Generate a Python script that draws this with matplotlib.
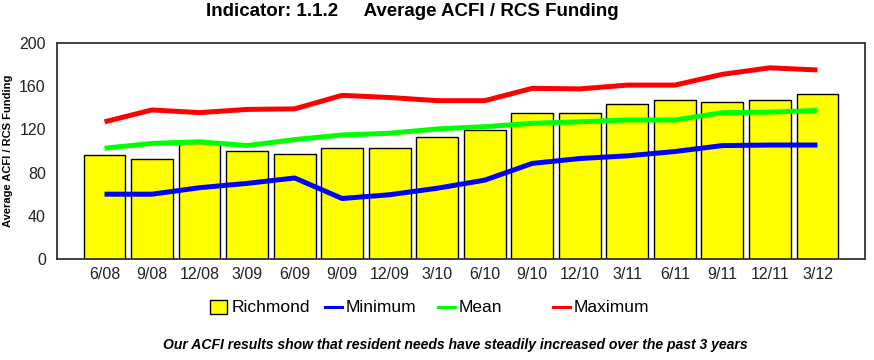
import matplotlib
matplotlib.use("Agg")
import matplotlib.pyplot as plt
from matplotlib.patches import Rectangle
from matplotlib.lines import Line2D
import numpy as np

plt.rcParams['font.family'] = ['Liberation Sans', 'DejaVu Sans']

categories = ["6/08", "9/08", "12/08", "3/09", "6/09", "9/09", "12/09", "3/10",
              "6/10", "9/10", "12/10", "3/11", "6/11", "9/11", "12/11", "3/12"]
richmond = [96, 93, 107, 100, 97, 102.5, 102.5, 113, 119.5, 135.5, 135.5, 143.5, 147, 145, 147, 153]
minimum = [60, 60, 66, 70, 75, 56, 59.5, 65.5, 73, 88.5, 93, 95.5, 99.5, 105, 105.5, 105.5]
mean = [102.5, 107, 108.5, 105, 110.5, 114.8, 116.4, 120.4, 122.5, 125.6, 127, 128.7, 128.7, 135.5, 136, 137.5]
maximum = [127, 138, 135.5, 138.5, 139, 151.5, 149.5, 146.6, 146.6, 158, 157.5, 161, 161, 171, 177, 175]

fig = plt.figure(figsize=(8.74, 3.6), dpi=100)
ax = fig.add_axes([0.0652, 0.2806, 0.9245, 0.6])

x = np.arange(len(categories))
ax.bar(x, richmond, width=0.88, color='#ffff00', edgecolor='black', linewidth=1.0, zorder=2)
ax.plot(x, minimum, color='#0000ff', lw=3.6, solid_capstyle='butt', solid_joinstyle='round', zorder=3)
ax.plot(x, mean, color='#00ff00', lw=3.6, solid_capstyle='butt', solid_joinstyle='round', zorder=3)
ax.plot(x, maximum, color='#ff0000', lw=3.6, solid_capstyle='butt', solid_joinstyle='round', zorder=3)

ax.set_xlim(-1, 16)
ax.set_ylim(0, 200)
ax.set_yticks([0, 40, 80, 120, 160, 200])
ax.set_xticks(x)
ax.set_xticklabels(categories)
ax.tick_params(axis='both', length=0, labelsize=11.5, colors='#222222', pad=6)
ax.tick_params(axis='y', pad=8)
for s in ax.spines.values():
    s.set_color('#333333')
    s.set_linewidth(1.3)

fig.text(8 / 874, 1 - 151 / 360, "Average ACFI / RCS Funding", rotation=90, ha='center', va='center',
         fontsize=8, fontweight='bold')

fig.text(412 / 874, 1 - 12 / 360, "Indicator: 1.1.2     Average ACFI / RCS Funding", ha='center', va='center',
         fontsize=13.5, fontweight='bold')

# legend
ly = 1 - 307 / 360
fig.add_artist(Rectangle((210 / 874, ly - 7 / 360), 17 / 874, 14 / 360, transform=fig.transFigure,
                         facecolor='#ffff00', edgecolor='black', linewidth=1.0))
fig.text(232 / 874, ly, "Richmond", ha='left', va='center', fontsize=12.5)
for x0, col, lab in [(325, '#0000ff', "Minimum"), (438, '#00ff00', "Mean"), (553, '#ff0000', "Maximum")]:
    fig.add_artist(Line2D([x0 / 874, (x0 + 17) / 874], [ly, ly], transform=fig.transFigure, color=col, lw=2.2))
    fig.text((x0 + 21) / 874, ly, lab, ha='left', va='center', fontsize=12.5)

fig.text(455 / 874, 1 - 345 / 360,
         "Our ACFI results show that resident needs have steadily increased over the past 3 years",
         ha='center', va='center', fontsize=10.1, fontweight='bold', fontstyle='italic')

fig.savefig("out.png", dpi=100)
